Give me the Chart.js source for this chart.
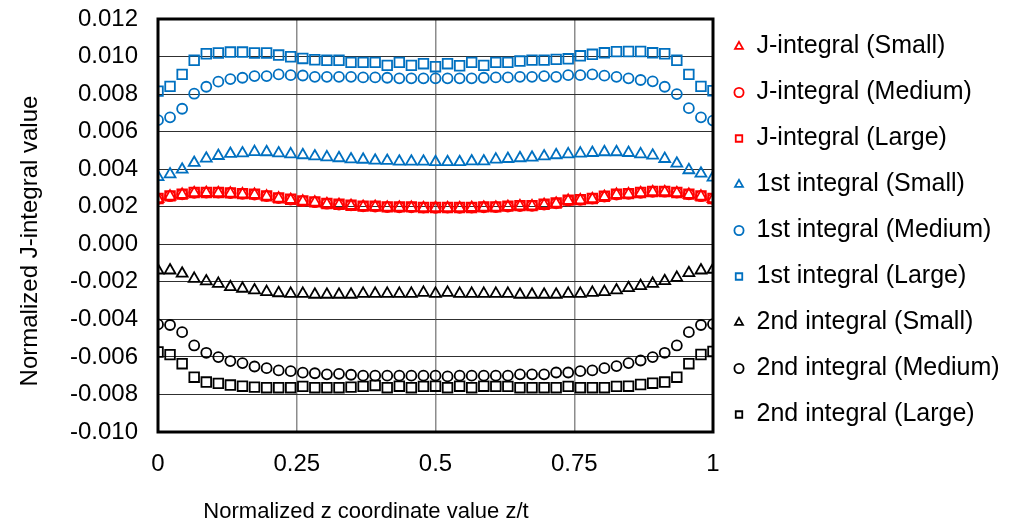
<!DOCTYPE html>
<html>
<head>
<meta charset="utf-8">
<title>Normalized J-integral</title>
<script src="https://cdn.jsdelivr.net/npm/chart.js@4.4.1/dist/chart.umd.min.js"></script>
<style>
  html, body { margin: 0; padding: 0; background: #fff; }
  #wrap { position: relative; width: 1014px; height: 526px; }
</style>
</head>
<body>
<div id="wrap"><canvas id="jChart"></canvas></div>
<script>
// normalized z coordinate (z/t) of each point
const zValues = [0, 0.0217, 0.0435, 0.0652, 0.0870, 0.1087, 0.1304, 0.1522, 0.1739, 0.1957,
  0.2174, 0.2391, 0.2609, 0.2826, 0.3043, 0.3261, 0.3478, 0.3696, 0.3913, 0.4130,
  0.4348, 0.4565, 0.4783, 0.5, 0.5217, 0.5435, 0.5652, 0.5870, 0.6087, 0.6304,
  0.6522, 0.6739, 0.6957, 0.7174, 0.7391, 0.7609, 0.7826, 0.8043, 0.8261, 0.8478,
  0.8696, 0.8913, 0.9130, 0.9348, 0.9565, 0.9783, 1];

const jSmall = [0.00241, 0.00255, 0.00264, 0.00273, 0.00274, 0.00273, 0.00271, 0.00267, 0.00264, 0.00255,
  0.00244, 0.00237, 0.00228, 0.00223, 0.00214, 0.00210, 0.00205, 0.00200, 0.00200, 0.00196,
  0.00196, 0.00195, 0.00193, 0.00193, 0.00193, 0.00193, 0.00194, 0.00196, 0.00196, 0.00200,
  0.00203, 0.00203, 0.00210, 0.00217, 0.00232, 0.00235, 0.00241, 0.00253, 0.00264, 0.00267,
  0.00273, 0.00278, 0.00278, 0.00273, 0.00264, 0.00255, 0.00241];
const jMedium = [0.00242, 0.00256, 0.00266, 0.00274, 0.00275, 0.00275, 0.00273, 0.00269, 0.00265, 0.00257,
  0.00246, 0.00238, 0.00230, 0.00224, 0.00216, 0.00211, 0.00207, 0.00202, 0.00201, 0.00198,
  0.00197, 0.00197, 0.00195, 0.00194, 0.00195, 0.00194, 0.00195, 0.00197, 0.00198, 0.00201,
  0.00204, 0.00205, 0.00211, 0.00218, 0.00233, 0.00237, 0.00243, 0.00254, 0.00265, 0.00269,
  0.00274, 0.00279, 0.00280, 0.00275, 0.00266, 0.00256, 0.00242];
const jLarge = [0.00244, 0.00258, 0.00267, 0.00276, 0.00276, 0.00276, 0.00274, 0.00270, 0.00267, 0.00258,
  0.00247, 0.00240, 0.00231, 0.00226, 0.00217, 0.00213, 0.00208, 0.00203, 0.00203, 0.00199,
  0.00199, 0.00199, 0.00196, 0.00196, 0.00196, 0.00196, 0.00196, 0.00199, 0.00199, 0.00203,
  0.00206, 0.00206, 0.00213, 0.00220, 0.00235, 0.00238, 0.00244, 0.00256, 0.00267, 0.00270,
  0.00276, 0.00281, 0.00281, 0.00276, 0.00267, 0.00258, 0.00244];

const firstSmall = [0.00359, 0.00373, 0.00398, 0.00434, 0.00457, 0.00471, 0.00482, 0.00485, 0.00492, 0.00491,
  0.00485, 0.00480, 0.00475, 0.00469, 0.00464, 0.00459, 0.00453, 0.00451, 0.00446, 0.00445,
  0.00441, 0.00441, 0.00441, 0.00438, 0.00438, 0.00438, 0.00442, 0.00442, 0.00452, 0.00455,
  0.00459, 0.00462, 0.00469, 0.00475, 0.00480, 0.00484, 0.00487, 0.00491, 0.00491, 0.00487,
  0.00480, 0.00473, 0.00455, 0.00430, 0.00395, 0.00377, 0.00356];
const firstMedium = [0.00661, 0.00676, 0.00722, 0.00802, 0.00839, 0.00866, 0.00880, 0.00887, 0.00896, 0.00896,
  0.00905, 0.00901, 0.00899, 0.00892, 0.00892, 0.00892, 0.00892, 0.00889, 0.00889, 0.00887,
  0.00884, 0.00884, 0.00884, 0.00884, 0.00884, 0.00884, 0.00884, 0.00887, 0.00889, 0.00889,
  0.00892, 0.00892, 0.00896, 0.00892, 0.00901, 0.00901, 0.00905, 0.00898, 0.00892, 0.00884,
  0.00875, 0.00868, 0.00839, 0.00800, 0.00725, 0.00676, 0.00659];
const firstLarge = [0.00816, 0.00841, 0.00905, 0.00980, 0.01015, 0.01019, 0.01024, 0.01024, 0.01019, 0.01019,
  0.01008, 0.00999, 0.00990, 0.00983, 0.00980, 0.00980, 0.00969, 0.00969, 0.00969, 0.00953,
  0.00969, 0.00953, 0.00962, 0.00946, 0.00962, 0.00951, 0.00969, 0.00953, 0.00969, 0.00969,
  0.00976, 0.00981, 0.00981, 0.00985, 0.00988, 0.01004, 0.01012, 0.01020, 0.01026, 0.01027,
  0.01027, 0.01020, 0.01015, 0.00980, 0.00905, 0.00841, 0.00818];

const secondSmall = [-0.00139, -0.00139, -0.00156, -0.00183, -0.00197, -0.00210, -0.00228, -0.00236, -0.00245, -0.00254,
  -0.00260, -0.00263, -0.00263, -0.00268, -0.00268, -0.00268, -0.00268, -0.00263, -0.00263, -0.00263,
  -0.00263, -0.00263, -0.00258, -0.00263, -0.00258, -0.00263, -0.00263, -0.00263, -0.00263, -0.00263,
  -0.00268, -0.00268, -0.00268, -0.00268, -0.00263, -0.00263, -0.00258, -0.00254, -0.00245, -0.00233,
  -0.00222, -0.00210, -0.00196, -0.00178, -0.00153, -0.00139, -0.00135];
const secondMedium = [-0.00427, -0.00430, -0.00468, -0.00539, -0.00578, -0.00601, -0.00622, -0.00633, -0.00651, -0.00660,
  -0.00672, -0.00676, -0.00684, -0.00687, -0.00693, -0.00690, -0.00695, -0.00700, -0.00700, -0.00700,
  -0.00700, -0.00700, -0.00700, -0.00700, -0.00704, -0.00700, -0.00700, -0.00700, -0.00700, -0.00700,
  -0.00693, -0.00693, -0.00693, -0.00683, -0.00683, -0.00676, -0.00672, -0.00660, -0.00649, -0.00633,
  -0.00619, -0.00601, -0.00578, -0.00539, -0.00468, -0.00430, -0.00425];
const secondLarge = [-0.00574, -0.00588, -0.00636, -0.00708, -0.00734, -0.00741, -0.00750, -0.00756, -0.00761, -0.00764,
  -0.00764, -0.00764, -0.00757, -0.00764, -0.00764, -0.00764, -0.00761, -0.00757, -0.00752, -0.00764,
  -0.00756, -0.00764, -0.00757, -0.00756, -0.00764, -0.00756, -0.00764, -0.00756, -0.00757, -0.00757,
  -0.00764, -0.00764, -0.00764, -0.00764, -0.00757, -0.00764, -0.00764, -0.00764, -0.00757, -0.00756,
  -0.00747, -0.00740, -0.00734, -0.00708, -0.00636, -0.00587, -0.00571];

const seriesLabels = [
  "J-integral (Small)", "J-integral (Medium)", "J-integral (Large)",
  "1st integral (Small)", "1st integral (Medium)", "1st integral (Large)",
  "2nd integral (Small)", "2nd integral (Medium)", "2nd integral (Large)"
];
const xTickLabels = ["0", "0.25", "0.5", "0.75", "1"];
const yTickLabels = ["-0.010", "-0.008", "-0.006", "-0.004", "-0.002", "0.000",
  "0.002", "0.004", "0.006", "0.008", "0.010", "0.012"];

const FONT = '"Liberation Sans", Arial, sans-serif';
const RED = "#ff0000", BLUE = "#0070c0", BLACK = "#000000";

const seriesValues = [jSmall, jMedium, jLarge, firstSmall, firstMedium, firstLarge, secondSmall, secondMedium, secondLarge];
const seriesColors = [RED, RED, RED, BLUE, BLUE, BLUE, BLACK, BLACK, BLACK];
const markerStyles = ["triangle", "circle", "rect"];
const markerRadius = { triangle: 6.3, circle: 5, rect: 6.8 };

const datasets = seriesValues.map((vals, k) => {
  const style = markerStyles[k % 3];
  return {
    label: seriesLabels[k],
    data: zValues.map((z, i) => ({ x: z, y: vals[i] })),
    showLine: false,
    pointStyle: style,
    pointRadius: markerRadius[style],
    pointHoverRadius: markerRadius[style],
    pointBorderWidth: 1.8,
    pointBorderColor: seriesColors[k],
    pointBackgroundColor: "rgba(0,0,0,0)",
    borderColor: seriesColors[k],
    backgroundColor: "rgba(0,0,0,0)"
  };
});

// legend sizing so the plot ends where the reference plot ends
const PLOT_RIGHT = 713;
const LEGEND_FONT = 25, LEGEND_PAD = 21, LEGEND_BOX = 10;
const measure = document.createElement("canvas").getContext("2d");
measure.font = LEGEND_FONT + "px " + FONT;
const widestLabel = Math.max(...seriesLabels.map(s => measure.measureText(s).width));
const legendWidth = Math.ceil(LEGEND_PAD + LEGEND_BOX + LEGEND_FONT / 2 + widestLabel) + 4;
const rightPad = Math.max(0, 1014 - PLOT_RIGHT - legendWidth);

// thick box round the plot + axis titles placed like the reference
const frameAndTitles = {
  id: "frameAndTitles",
  afterDraw(chart) {
    const { ctx, chartArea: a } = chart;
    ctx.save();
    ctx.strokeStyle = "#000";
    ctx.lineWidth = 3;
    ctx.strokeRect(a.left, a.top, a.right - a.left, a.bottom - a.top);
    ctx.fillStyle = "#000";
    ctx.textAlign = "center";
    ctx.textBaseline = "middle";
    ctx.font = "22px " + FONT;
    ctx.fillText("Normalized z coordinate value z/t", 366, 512);
    ctx.translate(30, 241);
    ctx.rotate(-Math.PI / 2);
    ctx.font = "24px " + FONT;
    ctx.fillText("Normalized J-integral value", 0, 0);
    ctx.restore();
  }
};

new Chart(document.getElementById("jChart"), {
  type: "scatter",
  data: { datasets },
  options: {
    responsive: true,
    maintainAspectRatio: false,
    animation: false,
    events: [],
    layout: { padding: { top: 13, left: 0, bottom: 0, right: rightPad } },
    scales: {
      x: {
        type: "linear",
        min: 0,
        max: 1,
        border: { display: false },
        grid: { color: "#8c8c8c", lineWidth: 1.5, drawTicks: false },
        ticks: {
          stepSize: 0.25,
          padding: 18,
          color: "#000",
          font: { family: FONT, size: 24 },
          callback: (v, i) => xTickLabels[i] ?? String(v)
        },
        afterFit(scale) {
          scale.height = 94;
          scale.paddingLeft = 0;
          scale.paddingRight = 0;
        }
      },
      y: {
        type: "linear",
        min: -0.010,
        max: 0.012,
        border: { display: false },
        grid: { color: "#303030", lineWidth: 1, drawTicks: false },
        ticks: {
          stepSize: 0.002,
          padding: 20,
          color: "#000",
          font: { family: FONT, size: 24 },
          callback: (v, i) => yTickLabels[i] ?? v.toFixed(3)
        },
        afterFit(scale) {
          scale.width = 158;
          scale.paddingTop = 19;
          scale.paddingBottom = 0;
        }
      }
    },
    plugins: {
      tooltip: { enabled: false },
      legend: {
        position: "right",
        align: "start",
        maxWidth: legendWidth,
        labels: {
          usePointStyle: true,
          boxWidth: LEGEND_BOX,
          boxHeight: 6.5,
          padding: LEGEND_PAD,
          color: "#000",
          font: { family: FONT, size: LEGEND_FONT }
        }
      }
    }
  },
  plugins: [frameAndTitles]
});
</script>
</body>
</html>
